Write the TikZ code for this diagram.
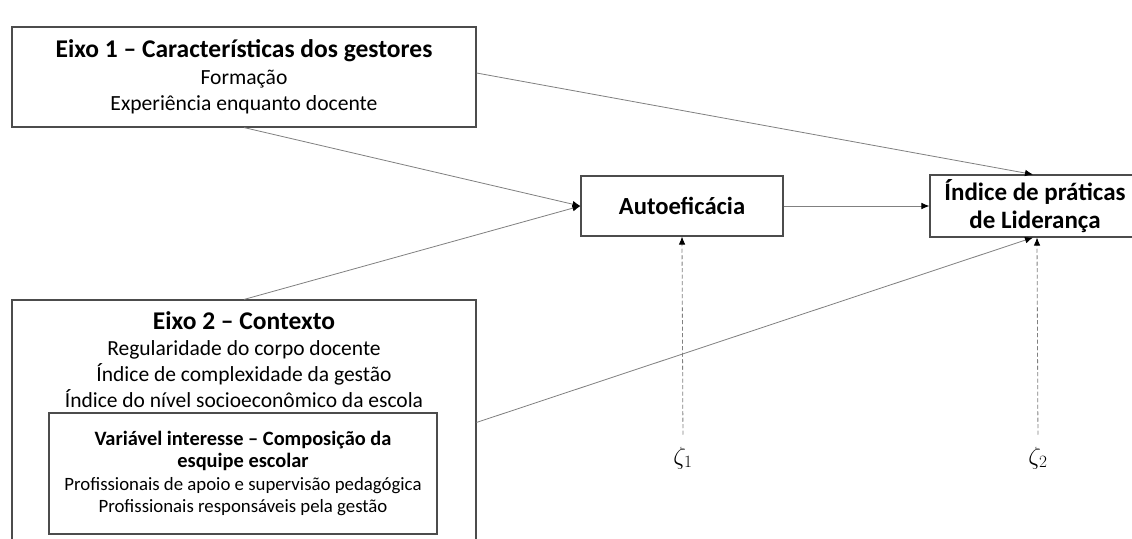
\documentclass[tikz,border=0pt]{standalone}
\usepackage{fontspec}
\setmainfont{Carlito}
\usetikzlibrary{arrows.meta}
\begin{document}
\begin{tikzpicture}[x=1pt,y=-1pt,
  box/.style={draw=black!70,line width=1.1pt,rectangle,inner sep=0pt,align=center},
  conn/.style={draw=black!50,line width=0.8pt,-{Latex[length=8pt,width=6.5pt,black]}},
  dconn/.style={draw=black!50,line width=0.8pt,dash pattern=on 4pt off 2.5pt,-{Latex[length=8pt,width=6.5pt,black]}}
]
\useasboundingbox (0,0) rectangle (1132,538);
\clip (0,0) rectangle (1132,538);
\fill[white] (0,0) rectangle (1132,538);

\node[box,minimum width=464pt,minimum height=100pt,font=\fontsize{21.6}{26.5}\selectfont] (e1) at (244,77)
  {\textbf{\fontsize{25.5}{27}\selectfont Eixo 1 – Características dos gestores}\\Formação\\Experiência enquanto docente};

\node[box,minimum width=464pt,minimum height=250pt] (e2) at (244,425) {};
\node[align=center,inner sep=0pt,font=\fontsize{21.5}{26}\selectfont] (e2t) at (244,360)
  {\textbf{\fontsize{25.5}{26}\selectfont Eixo 2 – Contexto}\\Regularidade do corpo docente\\Índice de complexidade da gestão\\Índice do nível socioeconômico da escola};

\node[box,minimum width=388pt,minimum height=121pt,font=\fontsize{18.8}{22.5}\selectfont] (inner) at (243,473.5)
  {\textbf{\fontsize{20.4}{23}\selectfont Variável interesse – Composição da}\\\textbf{\fontsize{20.4}{23.5}\selectfont esquipe escolar}\\Profissionais de apoio e supervisão pedagógica\\Profissionais responsáveis pela gestão};

\node[box,minimum width=202pt,minimum height=60pt,font=\bfseries\fontsize{24.6}{28}\selectfont] (auto) at (682,206) {Autoeficácia};
\node[box,minimum width=210pt,minimum height=62pt,font=\bfseries\fontsize{25}{28}\selectfont] (ind) at (1035,206) {Índice de práticas\\de Liderança};

\node[inner sep=0pt,font=\fontsize{27}{30}\selectfont] (z1) at (683,458) {$\zeta_1$};
\node[inner sep=0pt,font=\fontsize{27}{30}\selectfont] (z2) at (1038,458) {$\zeta_2$};

\draw[conn] (e1.south) -- (auto.west);
\draw[conn] (e2.north) -- (auto.west);
\draw[conn] ([yshift=4pt]e1.east) -- ([xshift=-2pt]ind.north);
\draw[conn] ([yshift=-123pt]e2.north east) -- ([xshift=-2pt]ind.south);
\draw[conn] (auto.east) -- (ind.west);
\draw[dconn,shorten <=12pt] (z1.north) -- (auto.south);
\draw[dconn,shorten <=12pt] (z2.north) -- ([xshift=2pt]ind.south);
\end{tikzpicture}
\end{document}
